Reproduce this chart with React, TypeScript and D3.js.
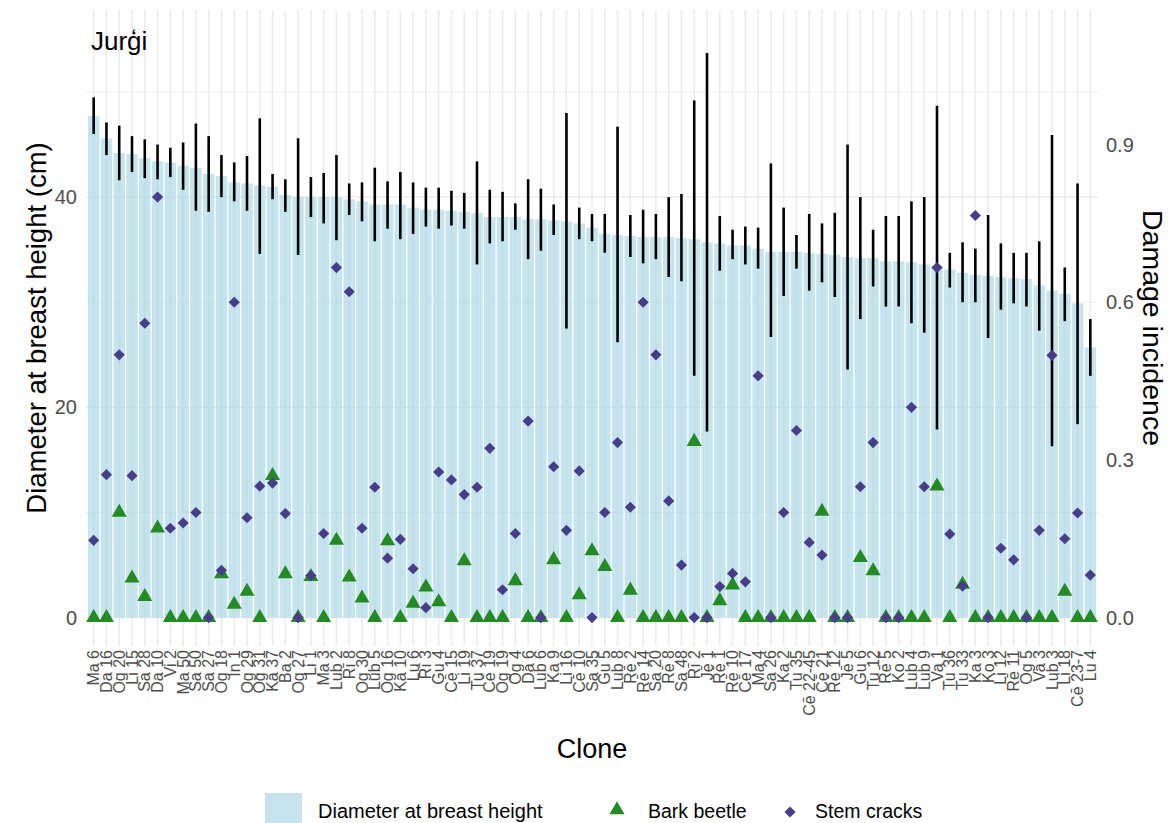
import * as d3 from "d3";

// clones sorted by mean DBH (descending)
const clones = [
  "Ma 6", "Da 16", "Og 20", "Li 15", "Sa 28", "Da 10", "Vi 2", "Ma 50", "Sa 50", "Sa 27",
  "Og 18", "In 1", "Og 29", "Og 31", "Ka 37", "Ba 2", "Og 27", "Li 1", "Ma 3", "Lub 2",
  "Rī 8", "Og 30", "Lub 5", "Og 16", "Ka 10", "Lu 6", "Rī 3", "Gu 4", "Cē 15", "Li 19",
  "Tu 37", "Cē 19", "Og 19", "Og 4", "Da 6", "Lub 6", "Ka 9", "Li 16", "Cē 10", "Sa 35",
  "Gu 5", "Lub 8", "Rē 2", "Rē 14", "Sa 20", "Rē 8", "Sa 48", "Rī 2", "Jē 1", "Rē 1",
  "Rē 10", "Cē 17", "Ma 4", "Sa 26", "Ka 2", "Tu 35", "Cē 22-45", "Cē 21", "Rē 12", "Jē 5",
  "Gu 6", "Tu 12", "Rē 5", "Ko 2", "Lub 4", "Lub 9", "Va 1", "Tu 36", "Tu 33", "Ka 3",
  "Ko 3", "Li 12", "Rē 11", "Og 5", "Va 3", "Lub 3", "Li 18", "Cē 23-7", "Lu 4",
];

// mean diameter at breast height, cm
const dbh = [
  47.7, 45.6, 44.2, 44.1, 43.7, 43.4, 43.3, 43.0, 42.8, 42.2,
  42.0, 41.4, 41.3, 41.1, 41.0, 40.2, 40.0, 40.0, 40.0, 40.0,
  39.8, 39.6, 39.3, 39.3, 39.3, 39.0, 38.8, 38.8, 38.7, 38.6,
  38.5, 38.1, 38.1, 38.1, 37.9, 37.9, 37.8, 37.7, 37.5, 37.1,
  36.5, 36.4, 36.3, 36.2, 36.2, 36.2, 36.1, 36.0, 35.7, 35.6,
  35.4, 35.4, 35.1, 34.8, 34.8, 34.8, 34.7, 34.6, 34.5, 34.3,
  34.2, 34.2, 33.9, 33.9, 33.8, 33.6, 33.5, 33.1, 32.8, 32.6,
  32.5, 32.4, 32.3, 32.2, 31.6, 31.1, 30.8, 29.9, 25.7,
];

// error bar ends, cm
const dbhHigh = [
  49.5, 47.1, 46.8, 45.8, 45.5, 45.0, 44.7, 45.2, 47.0, 45.8,
  44.0, 43.3, 43.9, 47.5, 42.2, 41.7, 45.6, 41.9, 42.3, 44.0,
  41.3, 41.4, 42.8, 41.5, 42.4, 41.4, 40.9, 40.9, 40.6, 40.4,
  43.4, 40.7, 40.5, 39.4, 41.7, 40.8, 39.3, 48.0, 39.0, 38.4,
  38.4, 46.7, 38.3, 38.8, 38.4, 40.0, 40.3, 49.2, 53.7, 38.2,
  36.9, 37.2, 37.1, 43.2, 39.0, 36.4, 38.4, 37.5, 38.5, 45.0,
  40.0, 36.9, 38.2, 38.2, 39.6, 40.0, 48.7, 34.7, 35.7, 35.1,
  38.3, 35.6, 34.7, 34.7, 35.8, 45.9, 33.3, 41.3, 28.4,
];
const dbhLow = [
  46.0, 44.0, 41.6, 42.4, 41.8, 41.7, 41.9, 40.7, 38.7, 38.6,
  40.0, 39.6, 38.7, 34.6, 39.8, 38.6, 34.5, 38.1, 37.5, 35.9,
  38.3, 37.7, 35.8, 37.0, 36.0, 36.5, 37.2, 37.0, 37.3, 37.0,
  33.6, 35.6, 35.8, 36.9, 34.1, 34.9, 36.4, 27.5, 36.0, 35.8,
  34.7, 26.2, 34.3, 33.7, 34.1, 32.4, 32.0, 23.0, 17.7, 33.0,
  34.1, 33.6, 33.2, 26.7, 30.6, 33.2, 31.1, 31.9, 30.5, 23.6,
  28.4, 31.5, 29.6, 29.6, 28.0, 27.1, 17.9, 31.4, 30.0, 30.0,
  26.6, 29.3, 29.9, 29.6, 27.3, 16.3, 28.2, 18.4, 23.0,
];

// damage incidence (0-1)
const barkBeetle = [
  0, 0, 0.2, 0.075, 0.04, 0.17, 0, 0, 0, 0,
  0.083, 0.025, 0.05, 0, 0.27, 0.083, 0, 0.078, 0, 0.147,
  0.077, 0.037, 0, 0.146, 0, 0.027, 0.058, 0.03, 0, 0.108,
  0, 0, 0, 0.07, 0, 0, 0.11, 0, 0.043, 0.127,
  0.097, 0, 0.052, 0, 0, 0, 0, 0.335, 0, 0.032,
  0.062, 0, 0, 0, 0, 0, 0, 0.202, 0, 0,
  0.114, 0.089, 0, 0, 0, 0, 0.25, 0, 0.063, 0,
  0, 0, 0, 0, 0, 0, 0.05, 0, 0,
];
const stemCracks = [
  0.147, 0.272, 0.5, 0.27, 0.56, 0.8, 0.17, 0.18, 0.2, 0,
  0.09, 0.6, 0.19, 0.25, 0.256, 0.198, 0, 0.08, 0.16, 0.666,
  0.62, 0.17, 0.248, 0.113, 0.149, 0.093, 0.019, 0.277, 0.262, 0.234,
  0.248, 0.322, 0.053, 0.16, 0.374, 0, 0.287, 0.166, 0.279, 0,
  0.2, 0.333, 0.21, 0.6, 0.5, 0.222, 0.1, 0, 0, 0.059,
  0.084, 0.068, 0.46, 0, 0.2, 0.356, 0.143, 0.119, 0, 0,
  0.249, 0.333, 0, 0, 0.4, 0.249, 0.666, 0.159, 0.06, 0.765,
  0, 0.132, 0.11, 0, 0.166, 0.499, 0.15, 0.199, 0.081,
];

const leftTicks = [0, 20, 40];
const minorTicks = [10, 30, 50];
const rightTicks = [0, 0.3, 0.6, 0.9];
const damageScale = 50; // 1.0 incidence == 50 cm on the left axis

const W = 1168;
const H = 823;
const panel = { left: 86, right: 1098, top: 10, bottom: 646 };
const font = "'Liberation Sans', Arial, Helvetica, sans-serif";

function triangle(cx: number, cy: number, r: number) {
  const h = r * 0.866;
  return `M${cx},${cy - r}L${cx + h},${cy + r / 2}L${cx - h},${cy + r / 2}Z`;
}
function diamond(cx: number, cy: number, r: number) {
  return `M${cx},${cy - r}L${cx + r},${cy}L${cx},${cy + r}L${cx - r},${cy}Z`;
}

export default function App() {
  const x = d3.scalePoint<string>().domain(clones).range([panel.left, panel.right]).padding(0.6);
  const y = d3.scaleLinear().domain([-2.7, 57.8]).range([panel.bottom, panel.top]);
  const bw = x.step() * 0.9;
  const midY = (panel.top + panel.bottom) / 2;

  return (
    <svg width={W} height={H} style={{ position: "absolute", left: 0, top: 0, background: "#fff" }} fontFamily={font}>
      {/* grid */}
      {minorTicks.map((t) => (
        <line key={"mi" + t} x1={panel.left} x2={panel.right} y1={y(t)} y2={y(t)} stroke="#ebebeb" strokeWidth={0.8} />
      ))}
      {leftTicks.map((t) => (
        <line key={"ma" + t} x1={panel.left} x2={panel.right} y1={y(t)} y2={y(t)} stroke="#ebebeb" strokeWidth={1.5} />
      ))}
      {clones.map((c) => (
        <line key={"vg" + c} x1={x(c)} x2={x(c)} y1={panel.top} y2={panel.bottom} stroke="#ebebeb" strokeWidth={1.5} />
      ))}

      {/* bars */}
      {clones.map((c, i) => (
        <rect key={"b" + c} x={x(c)! - bw / 2} width={bw} y={y(dbh[i])} height={y(0) - y(dbh[i])} fill="lightblue" fillOpacity={0.7} />
      ))}

      {/* error bars */}
      {clones.map((c, i) => (
        <line key={"e" + c} x1={x(c)} x2={x(c)} y1={y(dbhLow[i])} y2={y(dbhHigh[i])} stroke="#000" strokeWidth={2.6} />
      ))}

      {/* damage points */}
      {clones.map((c, i) => (
        <path key={"bb" + c} d={triangle(x(c)!, y(barkBeetle[i] * damageScale), 8.7)} fill="#228B22" />
      ))}
      {clones.map((c, i) => (
        <path key={"sc" + c} d={diamond(x(c)!, y(stemCracks[i] * damageScale), 5.6)} fill="#483D8B" />
      ))}

      <text x={91} y={50} fontSize={26} fill="#000">Jurģi</text>

      {/* left axis */}
      {leftTicks.map((t) => (
        <text key={"lt" + t} x={77} y={y(t)} dy="0.35em" textAnchor="end" fontSize={20} fill="#4d4d4d">{t}</text>
      ))}
      {/* right axis */}
      {rightTicks.map((t) => (
        <text key={"rt" + t} x={1106} y={y(t * damageScale)} dy="0.35em" fontSize={20} fill="#4d4d4d">{t.toFixed(1)}</text>
      ))}

      {/* x labels */}
      {clones.map((c) => (
        <text key={"xl" + c} transform={`translate(${x(c)! + 5.5},650) rotate(-90)`} textAnchor="end" fontSize={16} fill="#4d4d4d">{c}</text>
      ))}

      {/* titles */}
      <text transform={`translate(46,${midY}) rotate(-90)`} textAnchor="middle" fontSize={27.5} fill="#000">
        Diameter at breast height (cm)
      </text>
      <text transform={`translate(1143,${midY}) rotate(90)`} textAnchor="middle" fontSize={28.5} fill="#000">
        Damage incidence
      </text>
      <text x={(panel.left + panel.right) / 2} y={758} textAnchor="middle" fontSize={27} fill="#000">Clone</text>

      {/* legend */}
      <rect x={265} y={793} width={37} height={37} fill="lightblue" fillOpacity={0.7} />
      <text x={318} y={818} fontSize={20} fill="#000">Diameter at breast height</text>
      <path d={triangle(617, 810, 8.7)} fill="#228B22" />
      <text x={648} y={818} fontSize={19.5} fill="#000">Bark beetle</text>
      <path d={diamond(790, 812, 5.6)} fill="#483D8B" />
      <text x={815} y={818} fontSize={19.5} fill="#000">Stem cracks</text>
    </svg>
  );
}
